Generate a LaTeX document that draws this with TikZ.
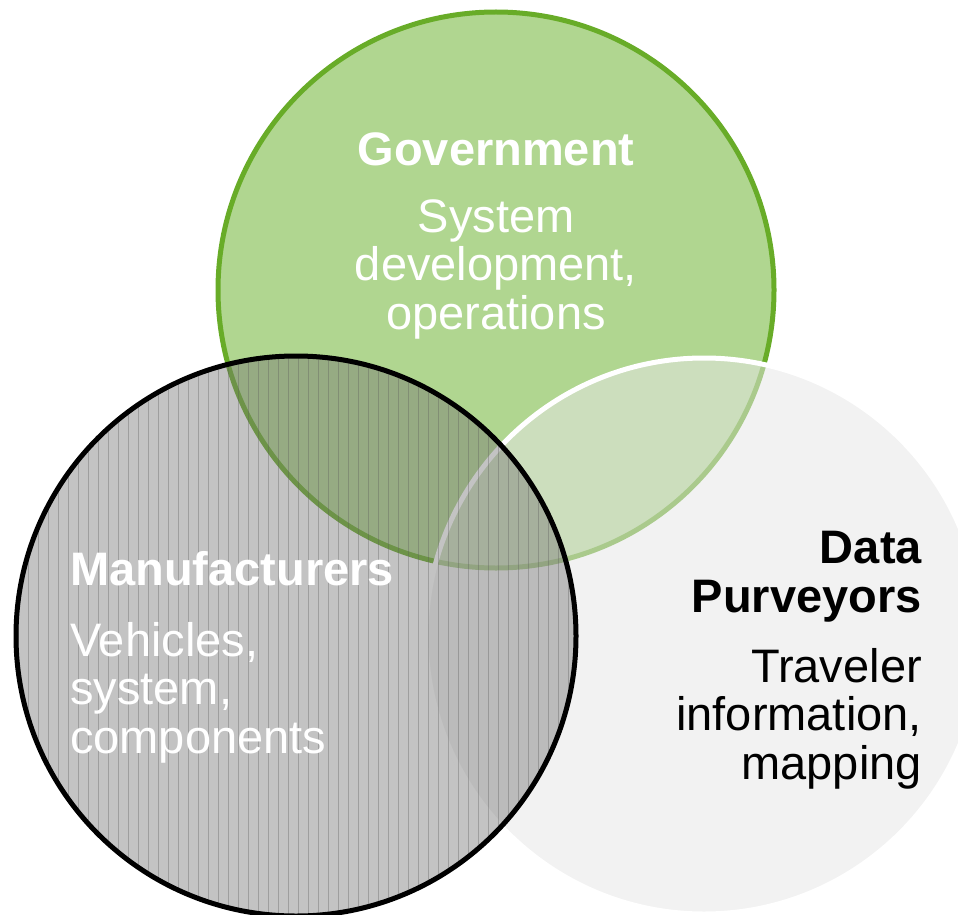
\documentclass[tikz,border=0pt]{standalone}
\usepackage{fontspec}
\setmainfont{Liberation Sans}
\definecolor{govfill}{RGB}{176,214,144}
\definecolor{govline}{RGB}{104,172,40}
\definecolor{datafill}{RGB}{230,230,230}
\definecolor{manfill}{RGB}{116,116,116}
\definecolor{stripe}{RGB}{90,90,90}
\tikzset{
  bigtext/.style={font=\fontsize{47}{48.5}\selectfont, inner sep=0pt},
}
\begin{document}
\begin{tikzpicture}[x=1pt,y=-1pt]
\useasboundingbox (0,0) rectangle (958,915);
% Government
\fill[govfill] (496,290) circle[radius=278];
\draw[govline, line width=5pt] (496,290) circle[radius=278];
% Data purveyors
\fill[datafill, fill opacity=0.53] (704,636) circle[radius=278];
\draw[white, line width=5pt] (704,636) circle[radius=278];
% Manufacturers
\fill[manfill, fill opacity=0.43] (296,636) circle[radius=280];
\begin{scope}
  \clip (296,636) circle[radius=280];
  \foreach \k in {0,...,57} {
    \draw[stripe, line width=0.7pt, opacity=0.35] ({18+10*\k},350) -- ({18+10*\k},920);
  }
\end{scope}
\draw[black, line width=5pt] (296,636) circle[radius=280];
% Texts
\node[bigtext, white, anchor=base] (govt) at (496,165) {\bfseries Government};
\node[bigtext, white, anchor=base, align=center] (govd) at (496,329) {System\\development,\\operations};
\node[bigtext, white, anchor=base west] (mant) at (70,585) {\bfseries Manufacturers};
\node[bigtext, white, anchor=base west, align=left] (mand) at (70,753) {Vehicles,\\system,\\components};
\node[bigtext, black, anchor=base east, align=right] (datat) at (922,612) {\bfseries Data\\\bfseries Purveyors};
\node[bigtext, black, anchor=base east, align=right] (datad) at (922,779) {Traveler\\information,\\mapping};
\end{tikzpicture}
\end{document}
